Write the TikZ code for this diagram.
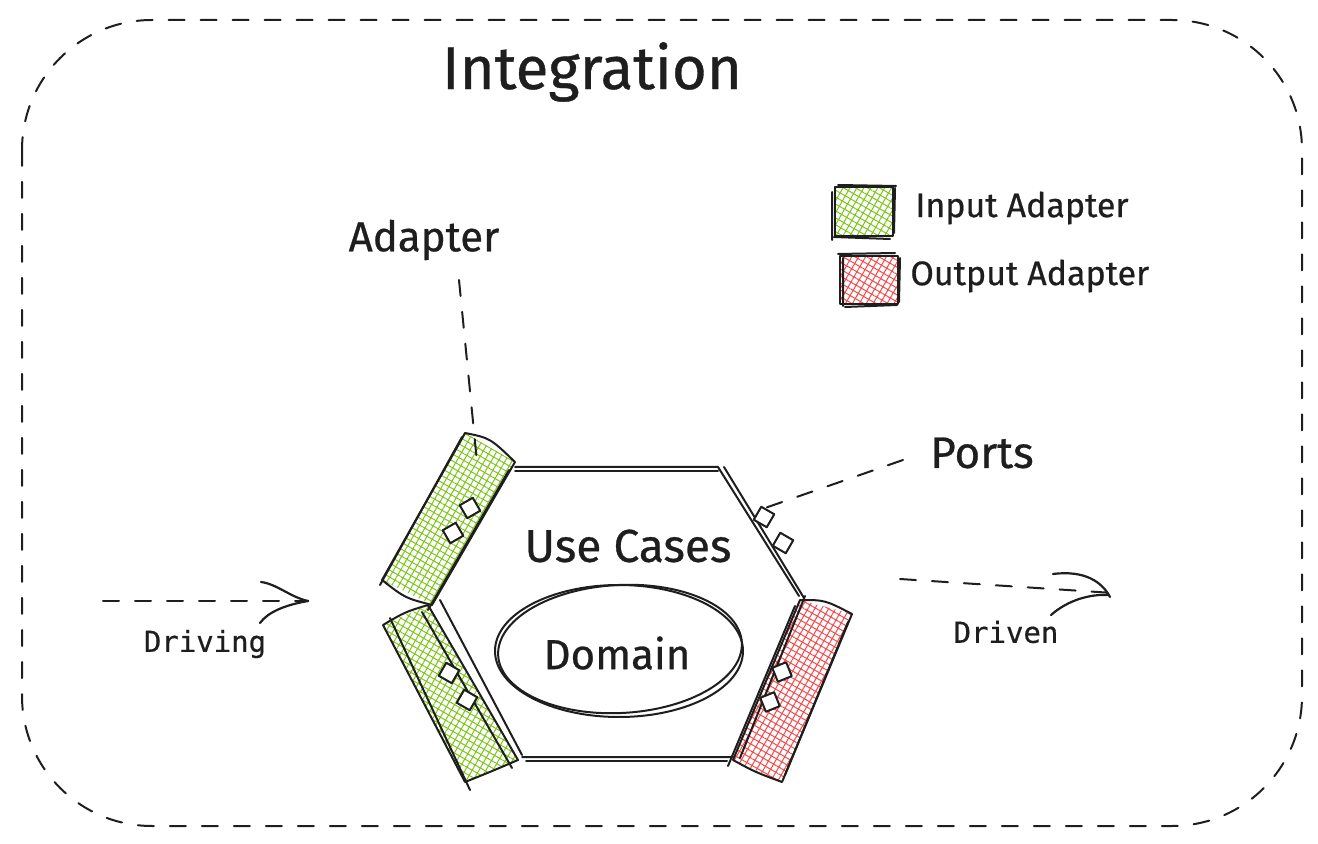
\documentclass[tikz,border=0pt]{standalone}
\usepackage{fontspec}
\setmainfont{Fira Sans}[FakeBold=0.6]
\newfontfamily\monof{DejaVu Sans Mono}[FakeBold=0.5]
\usetikzlibrary{patterns.meta}
\definecolor{ink}{HTML}{1E1E1E}
\definecolor{ingreen}{HTML}{7CC41A}
\definecolor{outred}{HTML}{F54848}
\begin{document}
\begin{tikzpicture}[x=0.5pt,y=-0.5pt,line cap=round,line join=round,
  sk/.style={draw=ink,line width=1pt},
  dashln/.style={draw=ink,line width=1pt,dash pattern=on 8pt off 8pt},
  hatchA/.style={pattern={Lines[angle=60,distance=3pt,line width=0.5pt]},pattern color=#1},
  hatchB/.style={pattern={Lines[angle=-30,distance=3pt,line width=0.5pt]},pattern color=#1},
  port/.style={draw=ink,line width=1pt,fill=white,minimum size=7.5pt,inner sep=0pt},
  hand/.style={text=ink,inner sep=0pt},
  mono/.style={text=ink,inner sep=0pt,font=\monof\fontsize{14.5}{16}\selectfont}]
\useasboundingbox (0,0) rectangle (1318,844);

% outer boundary
\draw[dashln,rounded corners=65pt] (22,20) rectangle (1302,826);

% texts
\node[hand,font=\fontsize{30}{34}\selectfont] (integ) at (592,72) {Integration};
\node[hand,font=\fontsize{21}{24}\selectfont] (adlbl) at (424,240) {Adapter};
\node[hand,font=\fontsize{22}{24}\selectfont] (portlbl) at (982,453) {Ports};
\node[hand,font=\fontsize{17}{20}\selectfont,anchor=west] (inlbl) at (915,208) {Input Adapter};
\node[hand,font=\fontsize{17}{20}\selectfont,anchor=west] (outlbl) at (910,276) {Output Adapter};
\node[mono] (drvlbl) at (205,644) {Driving};
\node[mono] (drnlbl) at (1006,632) {Driven};

% legend boxes
\foreach \c/\a/\b in {ingreen/{(835,187)}/{(893,236)}, outred/{(840,256)}/{(898,304)}}{
  \fill[hatchA=\c] \a rectangle \b;
  \fill[hatchB=\c] \a rectangle \b;
}
\draw[sk] (835,187) rectangle (893,236);
\draw[sk] (832,192) -- (832,240) (838,185) -- (896,186) (895,188) -- (894,233) (834,237) -- (890,239);
\draw[sk] (840,256) rectangle (898,304);
\draw[sk] (843,258) -- (843,306) (838,254) -- (895,253) (900,258) -- (899,302) (845,307) -- (897,305);

% adapters (hatched)
\foreach \c/\p in {ingreen/{(465,433) -- (515,462) -- (432,605) -- (382,580) -- cycle},
                   ingreen/{(383,625) -- (428,605) -- (518,760) -- (465,782) -- cycle},
                   outred/{(800,600) -- (852,614) -- (782,782) -- (733,760) -- cycle}}{
  \fill[hatchA=\c] \p;
  \fill[hatchB=\c] \p;
}
% adapter outlines (sketchy, doubled)
\draw[sk] (465,433) .. controls (490,438) .. (515,462) -- (432,605) .. controls (405,598) .. (382,580) -- cycle;
\draw[sk] (462,437) -- (380,585) (509,470) -- (428,610);
\draw[sk] (383,625) .. controls (405,612) .. (428,605) -- (518,760) .. controls (490,772) .. (465,782) -- cycle;
\draw[sk] (390,618) -- (470,790) (422,612) -- (512,768) (440,600) -- (522,755);
\draw[sk] (800,600) .. controls (825,600) .. (852,614) -- (782,782) .. controls (755,772) .. (733,760) -- cycle;
\draw[sk] (795,606) -- (728,766) (848,622) -- (785,775) (805,596) -- (740,758);

% hexagon (doubled edges)
\coordinate (h1) at (515,467);
\coordinate (h2) at (718,467);
\coordinate (h3) at (799,596);
\coordinate (h4) at (733,757);
\coordinate (h5) at (522,757);
\coordinate (h6) at (432,603);
\draw[sk] (h1) -- (h2) -- (h3) (h4) -- (h5);
\draw[sk] ([yshift=-2pt]h1) -- ([yshift=-2pt]h2);
\draw[sk] ([xshift=3pt]h2) -- ([xshift=2.5pt,yshift=-1pt]h3);
\draw[sk] ([xshift=-3pt,yshift=-2pt]h4) -- ([xshift=2pt,yshift=-2pt]h5);

% ports
\node[port,rotate=30] (p1) at (470,508) {};
\node[port,rotate=30] (p2) at (453,533) {};
\node[port,rotate=-30] (p3) at (449,673) {};
\node[port,rotate=-30] (p4) at (467,700) {};
\node[port,rotate=-30] (p5) at (764,517) {};
\node[port,rotate=-30] (p6) at (783,543) {};
\node[port,rotate=22] (p7) at (782,672) {};
\node[port,rotate=22] (p8) at (770,702) {};

% domain
\draw[sk] (619,651) ellipse [x radius=62pt,y radius=33pt];
\draw[sk,rotate around={3:(620,649)}] (620,649) ellipse [x radius=61pt,y radius=32pt];
\node[hand,font=\fontsize{21}{24}\selectfont] (domain) at (617,653) {Domain};
\node[hand,font=\fontsize{23}{26}\selectfont] (uc) at (628,546) {Use Cases};

% leader lines
\coordinate (adtop) at (459,280);
\coordinate (adbot) at (477,462);
\draw[dashln] (adtop) -- (adbot);
\coordinate (pttop) at (903,460);
\coordinate (ptbot) at (765,508);
\draw[dashln] (pttop) -- (ptbot);

% driving arrow
\coordinate (dvs) at (103,601);
\coordinate (dve) at (308,601);
\draw[dashln] (dvs) -- (dve);
\draw[sk,line width=1.1pt] (dve) .. controls (290,597) and (277,584) .. (261,582);
\draw[sk,line width=1.1pt] (dve) .. controls (285,605) and (268,612) .. (260,623);

% driven arrow
\coordinate (dns) at (900,579);
\coordinate (dne) at (1113,593);
\draw[dashln] (dns) -- (dne);
\draw[sk,line width=1.1pt] (1053,574) .. controls (1085,570) and (1102,582) .. (1110,597);
\draw[sk,line width=1.1pt] (1051,615) .. controls (1068,600) and (1090,594) .. (1108,595);
\end{tikzpicture}
\end{document}
